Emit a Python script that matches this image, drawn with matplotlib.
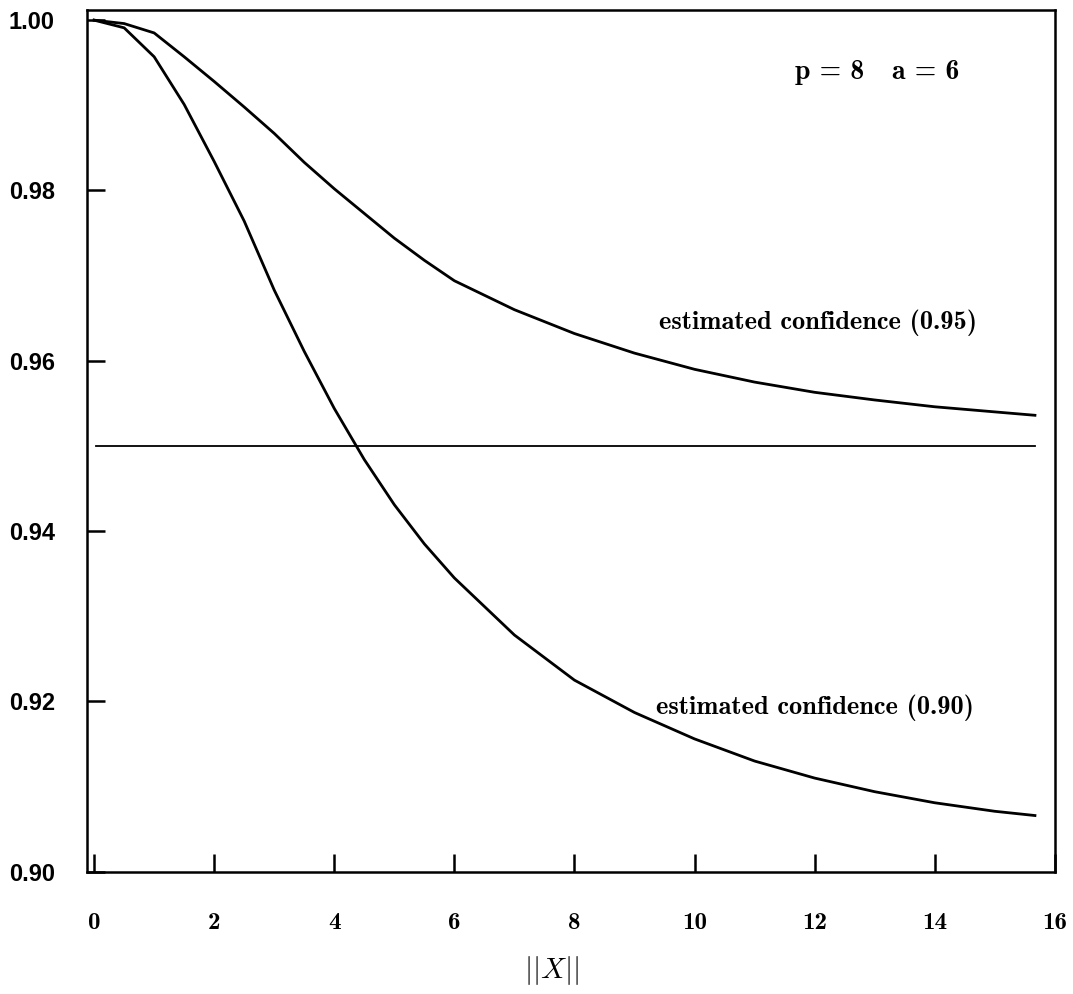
import numpy as np
import matplotlib
matplotlib.use('Agg')
import matplotlib.pyplot as plt

plt.rcParams['mathtext.fontset'] = 'cm'

# values
norm_x = [0, 0.5, 1, 1.5, 2, 2.5, 3, 3.5, 4, 4.5, 5, 5.5, 6,
          7, 8, 9, 10, 11, 12, 13, 14, 15, 15.67]

conf_095 = [1.0000, 0.9996, 0.9985, 0.9957, 0.9928, 0.9898, 0.9867,
            0.9833, 0.9802, 0.9773, 0.9744, 0.9718, 0.9694,
            0.9660, 0.9632, 0.9609, 0.9590, 0.9575, 0.9563,
            0.9554, 0.9546, 0.9540, 0.9536]

conf_090 = [1.0000, 0.9991, 0.9957, 0.9901, 0.9834, 0.9764, 0.9683,
            0.9611, 0.9544, 0.9484, 0.9431, 0.9385, 0.9345,
            0.9278, 0.9225, 0.9187, 0.9156, 0.9130, 0.9110,
            0.9094, 0.9081, 0.9071, 0.9066]

nominal = 0.95
nominal_x = [0.03, 15.67]

x_ticks = [0, 2, 4, 6, 8, 10, 12, 14, 16]
y_ticks = [0.90, 0.92, 0.94, 0.96, 0.98, 1.00]

fig = plt.figure(figsize=(10.73, 9.94), dpi=100)
ax = fig.add_axes([0.081, 0.123, 0.902, 0.867])

ax.plot(norm_x, conf_095, color='k', lw=2.0)
ax.plot(norm_x, conf_090, color='k', lw=2.0)
ax.plot(nominal_x, [nominal, nominal], color='k', lw=1.3)

ax.set_xlim(-0.12, 16.0)
ax.set_ylim(0.90, 1.0012)

ax.set_xticks(x_ticks)
ax.set_yticks(y_ticks)
ax.set_xticklabels([str(t) for t in x_ticks], fontfamily='cmb10', fontsize=18)
ax.set_yticklabels(['%.2f' % t for t in y_ticks], fontfamily='Liberation Sans',
                   fontweight='bold', fontsize=17)
ax.tick_params(axis='x', direction='in', length=13, width=1.8, pad=29)
ax.tick_params(axis='y', direction='in', length=13, width=1.8, pad=23)

for sp in ax.spines.values():
    sp.set_linewidth(1.8)

ax.text(13.05, 0.9939, 'p = 8   a = 6', fontfamily='cmb10', fontsize=20,
        ha='center', va='center')
ax.text(14.7, 0.9645, 'estimated confidence (0.95)', fontfamily='cmb10',
        fontsize=19, ha='right', va='center')
ax.text(14.65, 0.9192, 'estimated confidence (0.90)', fontfamily='cmb10',
        fontsize=19, ha='right', va='center')

ax.set_xlabel(r'$||X||$', fontsize=21)
ax.xaxis.set_label_coords(0.48, -0.095)

fig.savefig('out.png', dpi=100)
